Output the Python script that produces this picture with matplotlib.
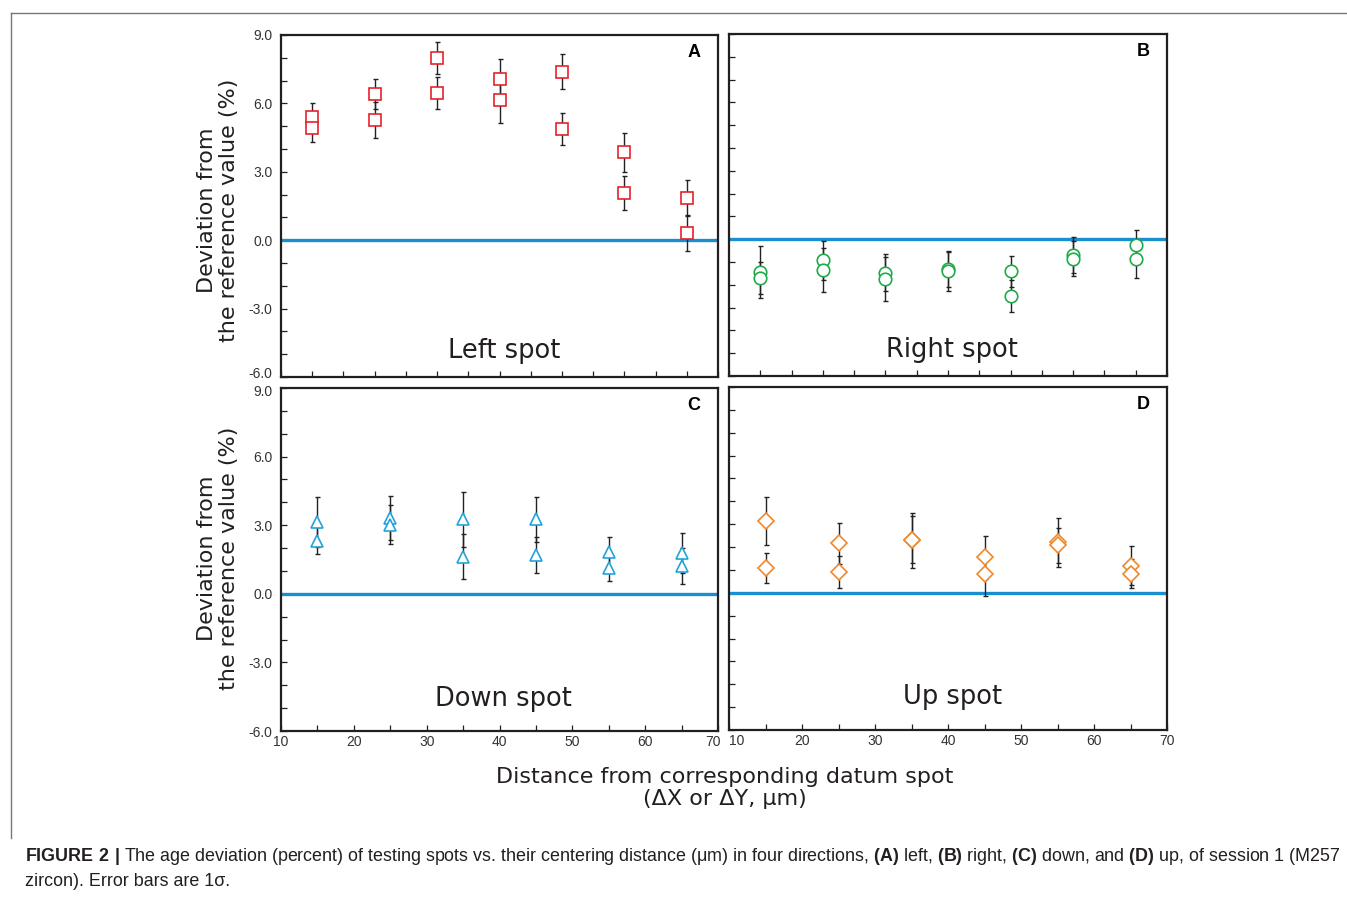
import numpy as np
import matplotlib
matplotlib.use('Agg')
import matplotlib.pyplot as plt
import matplotlib.transforms as mtransforms
from matplotlib.lines import Line2D

plt.rcParams['font.family'] = ['Liberation Sans', 'DejaVu Sans']
plt.rcParams['mathtext.fontset'] = 'custom'
plt.rcParams['mathtext.rm'] = 'Liberation Sans'
plt.rcParams['mathtext.bf'] = 'Liberation Sans:bold'

# x positions (top panels use a finer, unlabeled grid)
x_top = [14.3, 22.9, 31.4, 40.0, 48.6, 57.1, 65.7]
x_bot = [15, 25, 35, 45, 55, 65]

# (A) left spot: two analyses per distance
left_y1 = [5.42, 6.41, 8.01, 7.09, 7.39, 3.85, 1.83]
left_e1 = [0.60, 0.65, 0.70, 0.85, 0.77, 0.86, 0.79]
left_y2 = [4.90, 5.27, 6.44, 6.16, 4.88, 2.08, 0.32]
left_e2 = [0.60, 0.80, 0.70, 1.00, 0.72, 0.75, 0.80]

# (B) right spot
right_y1 = [-1.45, -0.93, -1.47, -1.31, -1.41, -0.71, -0.26]
right_e1 = [1.14, 0.84, 0.80, 0.80, 0.67, 0.79, 0.65]
right_y2 = [-1.71, -1.36, -1.75, -1.41, -2.49, -0.85, -0.89]
right_e2 = [0.71, 0.97, 0.95, 0.87, 0.69, 0.78, 0.82]

# (C) down spot
down_y1 = [3.15, 3.32, 3.26, 3.26, 1.81, 1.78]
down_e1 = [1.09, 0.96, 1.20, 0.98, 0.68, 0.87]
down_y2 = [2.32, 3.03, 1.63, 1.70, 1.14, 1.21]
down_e2 = [0.60, 0.86, 0.98, 0.80, 0.60, 0.79]

# (D) up spot
up_y1 = [3.14, 2.16, 2.30, 1.55, 2.20, 1.18]
up_e1 = [1.06, 0.91, 1.20, 0.95, 1.05, 0.85]
up_y2 = [1.07, 0.91, 2.33, 0.82, 2.07, 0.83]
up_e2 = [0.65, 0.68, 1.03, 0.94, 0.77, 0.63]

W, H = 1347, 897
fig = plt.figure(figsize=(W / 100, H / 100), dpi=100)


def px_axes(l, t, r, b):
    return fig.add_axes([l / W, 1 - b / H, (r - l) / W, (b - t) / H])


def nudge(label, dx, dy):
    # shift a tick label by dx, dy pixels
    label.set_transform(label.get_transform() +
                        mtransforms.ScaledTranslation(dx / 100, dy / 100, fig.dpi_scale_trans))


panels = [
    # rect, x, series, marker, color, title, letter, title y
    ((281, 35, 718, 377), x_top, [(left_y1, left_e1), (left_y2, left_e2)], 's', '#e8202a', 'Left spot', 'A', 0.038),
    ((729, 34, 1167, 376), x_top, [(right_y1, right_e1), (right_y2, right_e2)], 'o', '#1fab4a', 'Right spot', 'B', 0.038),
    ((281, 388, 718, 731), x_bot, [(down_y1, down_e1), (down_y2, down_e2)], '^', '#22a3dc', 'Down spot', 'C', 0.055),
    ((729, 387, 1167, 730), x_bot, [(up_y1, up_e1), (up_y2, up_e2)], 'D', '#f0872a', 'Up spot', 'D', 0.058),
]

axes = []
for i, (rect, xs, series, mk, col, title, letter, ty) in enumerate(panels):
    ax = px_axes(*rect)
    axes.append(ax)
    ax.set_xlim(10, 70)
    ax.set_ylim(-6, 9)
    ax.axhline(0, color='#1a8fd0', lw=2.4, zorder=2)
    msize = {'s': 9, 'o': 9, '^': 9, 'D': 8}[mk]
    for ys, es in series:
        ax.errorbar(xs, ys, yerr=es, fmt='none', ecolor='#222222', elinewidth=1.0,
                    capsize=1.8, capthick=1.0, zorder=3)
        ax.plot(xs, ys, linestyle='none', marker=mk, markersize=msize,
                markerfacecolor='white', markeredgecolor=col, markeredgewidth=1.2, zorder=4)

    for s in ax.spines.values():
        s.set_linewidth(1.6)
        s.set_color('#231f20')

    ax.set_yticks([-6, -3, 0, 3, 6, 9])
    ax.set_yticks(np.arange(-6, 10, 1), minor=True)
    if i in (0, 2):
        ax.set_yticklabels(['-6.0', '-3.0', '0.0', '3.0', '6.0', '9.0'])
    else:
        ax.set_yticklabels([])
    if i < 2:
        ax.set_xticks(np.linspace(10, 70, 15))
        ax.set_xticklabels([])
    else:
        ax.set_xticks(np.arange(10, 71, 10))
        ax.set_xticks(np.arange(15, 70, 10), minor=True)
    ax.tick_params(which='both', direction='in', length=4, width=0.9, color='#231f20',
                   labelsize=10, labelcolor='#333333', pad=3)
    ax.tick_params(axis='y', which='both', pad=6)

    ax.text(0.51, ty, title, transform=ax.transAxes, ha='center', va='bottom',
            fontsize=18.5, color='#231f20', family=['DejaVu Sans'])
    ax.text(0.945, 0.95, letter, transform=ax.transAxes, ha='center', va='center',
            fontsize=13, fontweight='bold', color='black')

# keep the crowded corner labels apart
nudge(axes[0].get_yticklabels()[0], 0, 4)
nudge(axes[2].get_yticklabels()[-1], 0, -3)
nudge(axes[2].get_xticklabels()[-1], -5, 0)
nudge(axes[3].get_xticklabels()[0], 8, 0)

# y labels
for yc in (210, 558):
    fig.text(218 / W, 1 - yc / H, 'Deviation from\nthe reference value (%)', rotation=90,
             ha='center', va='center', multialignment='center', fontsize=16,
             color='#231f20', family=['DejaVu Sans'], linespacing=1.15)

# x label
fig.text(725 / W, 1 - 788 / H, 'Distance from corresponding datum spot\n(\u0394X or \u0394Y, \u03bcm)',
         ha='center', va='center', multialignment='center', fontsize=16,
         color='#231f20', family=['DejaVu Sans'], linespacing=1.15)

# outer frame lines
fig.add_artist(Line2D([11 / W, 1346 / W], [1 - 13 / H, 1 - 13 / H], color='#777777', lw=1.0))
fig.add_artist(Line2D([11 / W, 11 / W], [1 - 13 / H, 1 - 838 / H], color='#777777', lw=1.0))

# caption (bold parts through mathtext so the baseline stays even)
cap1 = (r'$\mathbf{FIGURE\ 2\ |}$ The age deviation (percent) of testing spots vs. their centering '
        'distance (\u03bcm) in four directions, '
        r'$\mathbf{(A)}$ left, $\mathbf{(B)}$ right, $\mathbf{(C)}$ down, and $\mathbf{(D)}$ up, of session 1 (M257')
fig.text(25 / W, 1 - 861 / H, cap1, fontsize=12.9, color='#231f20', ha='left', va='baseline')
fig.text(25 / W, 1 - 886 / H, 'zircon). Error bars are 1\u03c3.', fontsize=12.9,
         color='#231f20', ha='left', va='baseline')

fig.savefig('out.png', dpi=100)
